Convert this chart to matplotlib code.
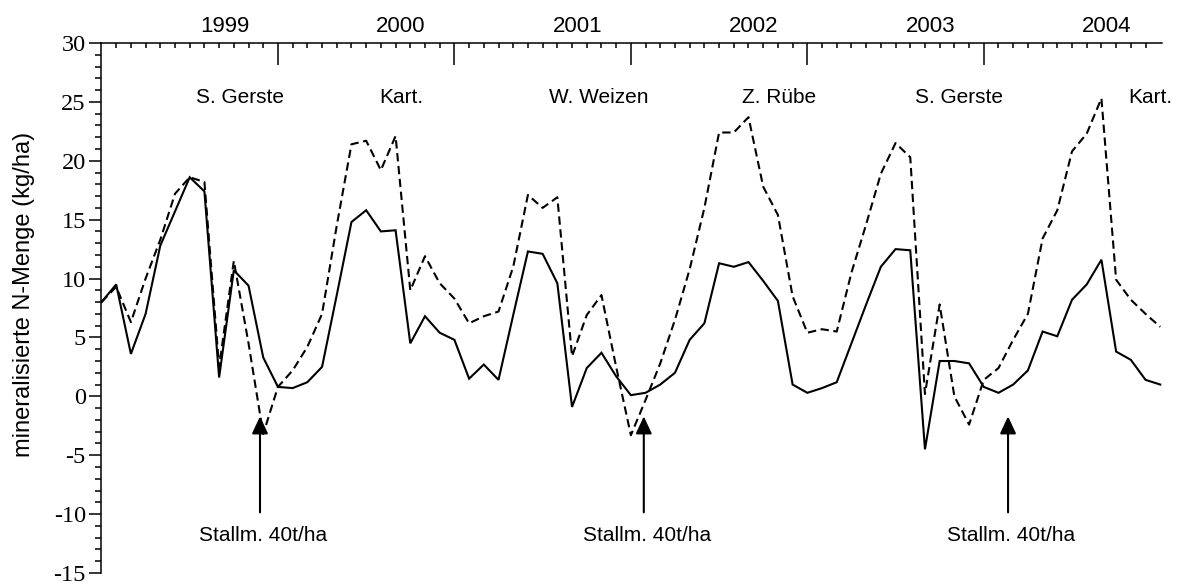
import numpy as np
import matplotlib
matplotlib.use('Agg')
import matplotlib.pyplot as plt
from matplotlib.ticker import MultipleLocator, FixedLocator, NullFormatter

plt.rcParams['axes.unicode_minus'] = False

# Monatswerte ab Versuchsbeginn (Monat 0 = linke Achse)
monate = np.arange(73)

n_min_durchgezogen = [
    8.0, 9.5, 3.6, 7.0, 12.8, 15.7, 18.6, 17.4, 1.6, 10.7, 9.4, 3.3,
    0.8, 0.7, 1.2, 2.5, 8.6, 14.8, 15.8, 14.0, 14.1, 4.5, 6.8, 5.4,
    4.8, 1.5, 2.7, 1.4, 6.9, 12.3, 12.1, 9.6, -0.9, 2.4, 3.7, 1.7,
    0.1, 0.3, 1.0, 2.0, 4.8, 6.2, 11.3, 11.0, 11.4, 9.8, 8.1, 1.0,
    0.3, 0.7, 1.2, 4.5, 7.8, 11.0, 12.5, 12.4, -4.5, 3.0, 3.0, 2.8,
    0.8, 0.3, 1.0, 2.2, 5.5, 5.1, 8.2, 9.5, 11.6, 3.8, 3.1, 1.4,
    1.0,
]

n_min_gestrichelt = [
    8.0, 9.3, 6.3, 10.0, 13.3, 17.2, 18.6, 18.2, 2.5, 11.5, 4.5, -3.2,
    0.8, 2.2, 4.2, 7.0, 14.5, 21.4, 21.7, 19.2, 22.1, 9.0, 11.9, 9.6,
    8.3, 6.2, 6.8, 7.2, 11.0, 17.1, 16.0, 16.9, 3.4, 6.9, 8.6, 2.5,
    -3.3, -0.3, 2.8, 6.5, 10.8, 16.0, 22.4, 22.4, 23.7, 17.8, 15.4, 8.5,
    5.4, 5.7, 5.5, 10.5, 14.6, 18.9, 21.5, 20.3, 0.2, 7.8, 0.0, -2.4,
    1.4, 2.4, 4.8, 7.0, 13.4, 15.8, 20.8, 22.3, 25.3, 9.9, 8.2, 7.0,
    5.9,
]

jahre = ['1999', '2000', '2001', '2002', '2003', '2004']
jahr_pos = [8.37, 20.37, 32.37, 44.37, 56.37, 68.37]

kulturen = ['S. Gerste', 'Kart.', 'W. Weizen', 'Z. Rübe', 'S. Gerste', 'Kart.']
kultur_pos = [9.4, 20.4, 33.8, 46.1, 58.3, 71.3]

# Stallmistgaben
stallmist_pos = [10.78, 36.88, 61.65]
stallmist_text = 'Stallm. 40t/ha'

sans = ['Liberation Sans', 'DejaVu Sans']
serif = ['Liberation Serif', 'DejaVu Serif']

fig = plt.figure(figsize=(11.8, 5.84), dpi=100)
ax = fig.add_axes([0.086, 0.0188, 0.8985, 0.9076])

ax.plot(monate, n_min_durchgezogen, color='black', lw=1.5, solid_joinstyle='miter')
ax.plot(monate, n_min_gestrichelt, color='black', lw=1.5, linestyle=(0, (4.0, 2.2)))

ax.set_xlim(0, 72.1)
ax.set_ylim(-15, 30)

for s in ['right', 'bottom']:
    ax.spines[s].set_visible(False)
for s in ['top', 'left']:
    ax.spines[s].set_linewidth(1.1)

# Zeitachse oben: Monatsstriche, lange Striche im Jahresabstand
ax.xaxis.tick_top()
ax.xaxis.set_major_locator(FixedLocator([12, 24, 36, 48, 60]))
ax.xaxis.set_minor_locator(FixedLocator(range(1, 72)))
ax.xaxis.set_major_formatter(NullFormatter())
ax.tick_params(axis='x', which='major', direction='in', length=15.8, width=1.1)
ax.tick_params(axis='x', which='minor', direction='in', length=3.8, width=1.1)

ax.yaxis.set_major_locator(MultipleLocator(5))
ax.yaxis.set_minor_locator(MultipleLocator(1))
ax.tick_params(axis='y', which='major', direction='out', length=8.3, width=1.1, pad=3)
ax.tick_params(axis='y', which='minor', direction='out', length=4.6, width=1.1)
for lab in ax.get_yticklabels():
    lab.set_family(serif)
    lab.set_fontsize(17.5)

for j, x in zip(jahre, jahr_pos):
    ax.text(x, 30.96, j, ha='center', va='baseline', fontsize=16, family=sans, clip_on=False)

for k, x in zip(kulturen, kultur_pos):
    ax.text(x, 24.87, k, ha='center', va='baseline', fontsize=15, family=sans, clip_on=False)

for x in stallmist_pos:
    ax.annotate('', xy=(x, -1.7), xytext=(x, -9.85),
                arrowprops=dict(arrowstyle='-|>,head_length=0.75,head_width=0.35',
                                mutation_scale=14, color='black', lw=1.5,
                                shrinkA=0, shrinkB=0))
    ax.text(x + 0.2, -12.25, stallmist_text, ha='center', va='baseline', fontsize=15, family=sans)

ax.text(-0.0735, 0.526, 'mineralisierte N-Menge (kg/ha)', rotation=90, ha='center', va='center',
        fontsize=17, family=sans, transform=ax.transAxes)

fig.savefig('out.png', dpi=100)
